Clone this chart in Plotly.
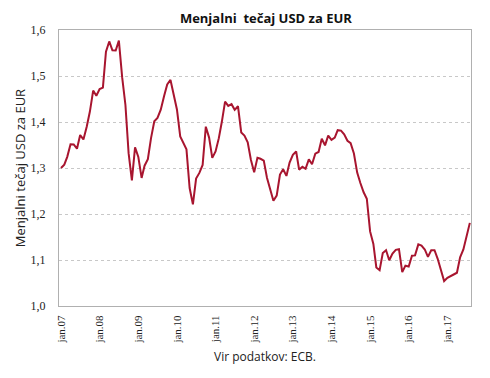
import plotly.graph_objects as go
import pandas as pd

# Monthly average USD per EUR, Jan 2007 - Aug 2017
start_month = "2007-01-01"
rate = [
    1.2999, 1.3074, 1.3242, 1.3516, 1.3511, 1.3419, 1.3716, 1.3622, 1.3896, 1.4227, 1.4684, 1.4570,
    1.4718, 1.4748, 1.5527, 1.5751, 1.5557, 1.5553, 1.5770, 1.4975, 1.4370, 1.3322, 1.2732, 1.3449,
    1.3239, 1.2785, 1.3050, 1.3190, 1.3650, 1.4016, 1.4088, 1.4268, 1.4562, 1.4816, 1.4914, 1.4614,
    1.4272, 1.3686, 1.3569, 1.3406, 1.2565, 1.2209, 1.2770, 1.2894, 1.3067, 1.3898, 1.3661, 1.3220,
    1.3360, 1.3649, 1.3999, 1.4442, 1.4349, 1.4388, 1.4264, 1.4343, 1.3770, 1.3706, 1.3556, 1.3179,
    1.2905, 1.3224, 1.3201, 1.3162, 1.2789, 1.2526, 1.2288, 1.2400, 1.2856, 1.2974, 1.2828, 1.3119,
    1.3288, 1.3359, 1.2964, 1.3026, 1.2982, 1.3189, 1.3080, 1.3310, 1.3348, 1.3635, 1.3493, 1.3704,
    1.3610, 1.3659, 1.3823, 1.3813, 1.3732, 1.3592, 1.3539, 1.3316, 1.2901, 1.2673, 1.2472, 1.2331,
    1.1621, 1.1350, 1.0838, 1.0779, 1.1150, 1.1213, 1.0996, 1.1139, 1.1221, 1.1235, 1.0736, 1.0877,
    1.0860, 1.1093, 1.1100, 1.1339, 1.1311, 1.1229, 1.1069, 1.1212, 1.1212, 1.1026, 1.0799, 1.0543,
    1.0614, 1.0643, 1.0685, 1.0723, 1.1058, 1.1229, 1.1511, 1.1807,
]
tick_dates = ["2007-01-01", "2008-01-01", "2009-01-01", "2010-01-01", "2011-01-01", "2012-01-01",
              "2013-01-01", "2014-01-01", "2015-01-01", "2016-01-01", "2017-01-01"]
tick_labels = ["jan.07", "jan.08", "jan.09", "jan.10", "jan.11", "jan.12",
               "jan.13", "jan.14", "jan.15", "jan.16", "jan.17"]
y_ticks = [1.0, 1.1, 1.2, 1.3, 1.4, 1.5, 1.6]

dates = pd.date_range(start_month, periods=len(rate), freq="MS")

fig = go.Figure()
fig.add_trace(go.Scatter(x=dates, y=rate, mode="lines",
                         line=dict(color="#a8152f", width=2), hoverinfo="x+y"))

fig.update_layout(
    width=482, height=370,
    margin=dict(l=51, r=19, t=22, b=72),
    paper_bgcolor="white", plot_bgcolor="white",
    separators=",.",
    showlegend=False,
    title=dict(text="<b>Menjalni  tečaj USD za EUR</b>", x=0.535, xanchor="center",
               y=0.972, yanchor="middle",
               font=dict(family="Open Sans, Noto Sans, sans-serif", size=13, color="#111")),
    xaxis=dict(
        range=["2006-12-13", "2017-08-12"],
        tickvals=tick_dates, ticktext=tick_labels, tickangle=-90,
        tickfont=dict(family="Liberation Serif, serif", size=11, color="#222"),
        showgrid=False, zeroline=False,
        showline=True, linecolor="#b0b0b0", linewidth=1, mirror=True,
        ticks="", ticklabelstandoff=4, automargin=False,
        title=dict(text="Vir podatkov: ECB.", standoff=9,
                   font=dict(family="Open Sans, Noto Sans, sans-serif", size=12, color="#222")),
    ),
    yaxis=dict(
        range=[1.0, 1.6], tickvals=y_ticks, tickformat=".1f",
        tickfont=dict(family="Liberation Serif, serif", size=12, color="#222"),
        showgrid=True, gridcolor="#c8c8c8", griddash="dot", gridwidth=1,
        zeroline=False,
        showline=True, linecolor="#b0b0b0", linewidth=1, mirror=True,
        ticks="", ticklabelstandoff=10, automargin=False,
        title=dict(text="Menjalni tečaj USD za EUR", standoff=2,
                   font=dict(family="Open Sans, Noto Sans, sans-serif", size=13, color="#222")),
    ),
)

fig.write_html("out.html")
